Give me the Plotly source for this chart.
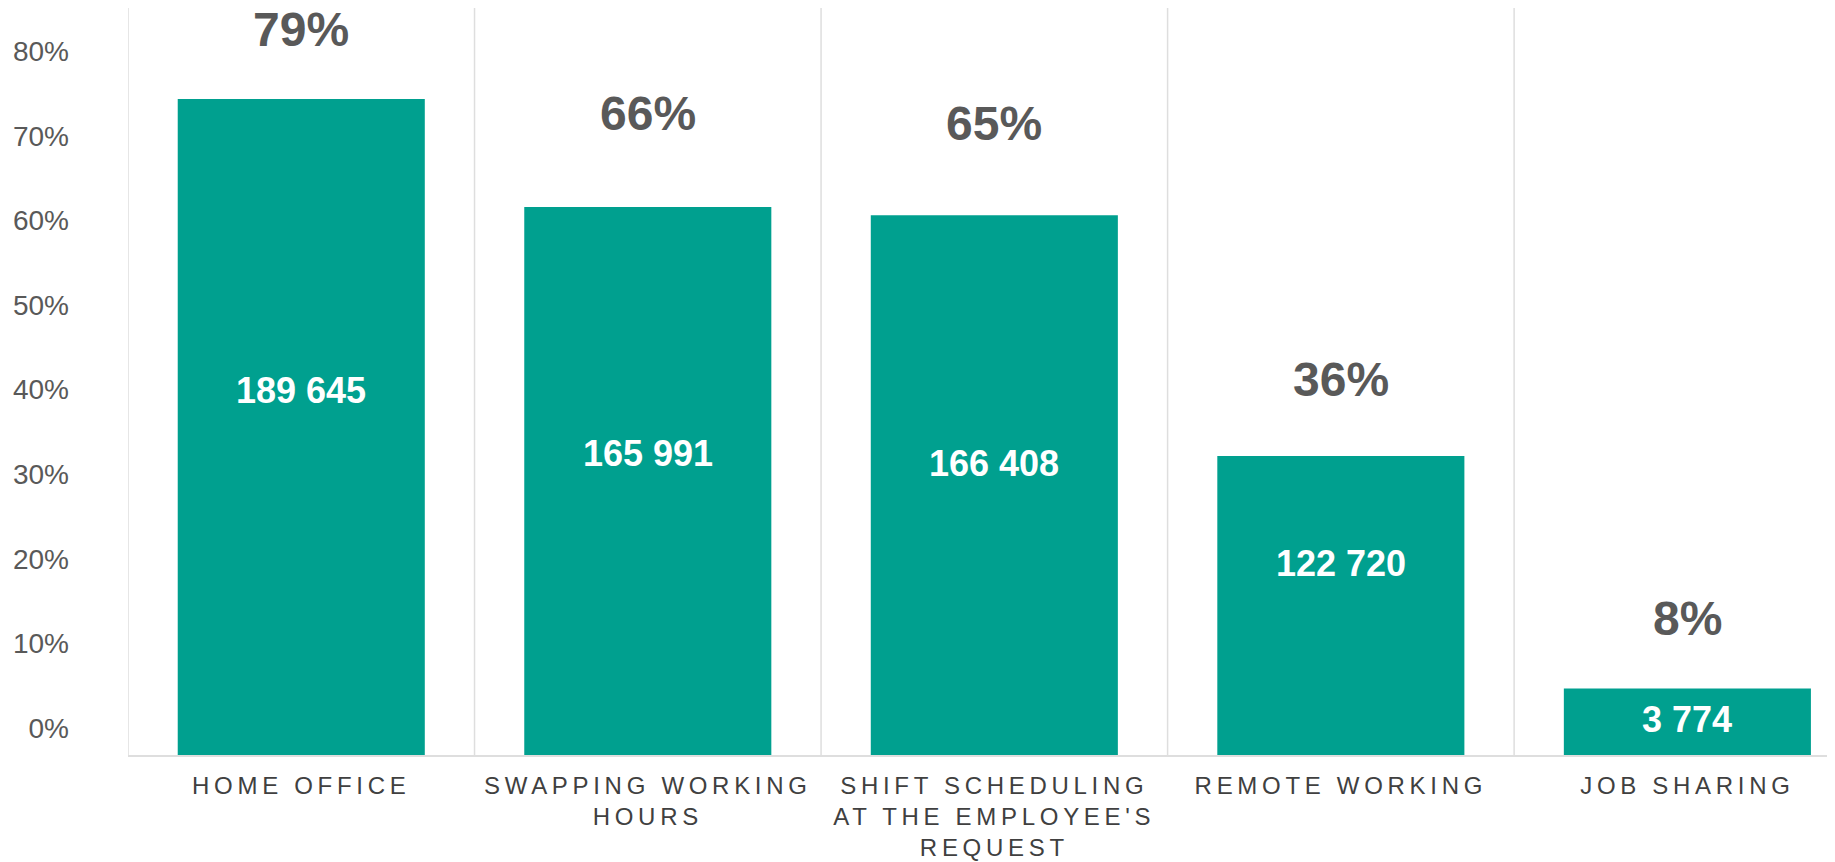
import plotly.graph_objects as go

categories = ["HOME OFFICE", "SWAPPING WORKING<br>HOURS",
              "SHIFT SCHEDULING<br>AT THE EMPLOYEE'S<br>REQUEST",
              "REMOTE WORKING", "JOB SHARING"]
shares = [79, 66, 65, 36, 8]
counts = ["189 645", "165 991", "166 408", "122 720", "3 774"]
ytick_labels = ["0%", "10%", "20%", "30%", "40%", "50%", "60%", "70%", "80%"]

# style / positioning (page has an 8px body margin)
BAR = "#00A08F"
GRID = "#DEDEDE"
FONT = "Liberation Sans, Arial, sans-serif"
pct_shift = [70, 93, 92, 77, 70]
cnt_shift = [37, 27, 22, 42, 2]
tick_offset, tick_step = 3.25, 10.19

def spaced(label):
    return "<br>".join(
        '<span style="letter-spacing:4.7px">%s</span>' % line
        for line in label.split("<br>"))

xs = list(range(len(categories)))
fig = go.Figure(go.Bar(x=xs, y=shares, width=0.713,
                       marker=dict(color=BAR, line=dict(width=0)),
                       hoverinfo="skip"))

for i, (v, c) in enumerate(zip(shares, counts)):
    fig.add_annotation(x=i, y=v, text="<b>%d%%</b>" % v, showarrow=False,
                       yanchor="middle", yshift=pct_shift[i],
                       font=dict(family=FONT, size=48, color="#595959"))
    fig.add_annotation(x=i, y=v / 2, text="<b>%s</b>" % c, showarrow=False,
                       yanchor="middle", yshift=cnt_shift[i],
                       font=dict(family=FONT, size=36, color="white"))

fig.update_layout(
    width=1827, height=854,
    margin=dict(l=120, r=0, t=0, b=107, autoexpand=False),
    paper_bgcolor="white", plot_bgcolor="white",
    showlegend=False,
    xaxis=dict(type="linear", range=[-0.5, 4.426], automargin=False,
               tickmode="array", tickvals=xs,
               ticktext=[spaced(c) for c in categories],
               showgrid=False, zeroline=False,
               showline=True, linecolor=GRID, linewidth=2,
               tickfont=dict(family=FONT, size=24, color="#404040"),
               ticks="", ticklabelstandoff=8),
    yaxis=dict(range=[0, 89.96], tickmode="array", automargin=False,
               tickvals=[tick_offset + tick_step * k for k in range(len(ytick_labels))],
               ticktext=ytick_labels, showgrid=False, zeroline=False,
               showline=False, ticks="", ticklabelstandoff=58,
               tickfont=dict(family=FONT, size=28, color="#595959")),
)

for b in [k + 0.5 for k in range(-1, len(categories))]:
    fig.add_shape(type="line", xref="x", yref="paper", x0=b, x1=b, y0=0, y1=1,
                  line=dict(color=GRID, width=1.5), layer="below")

fig.write_html("out.html")
